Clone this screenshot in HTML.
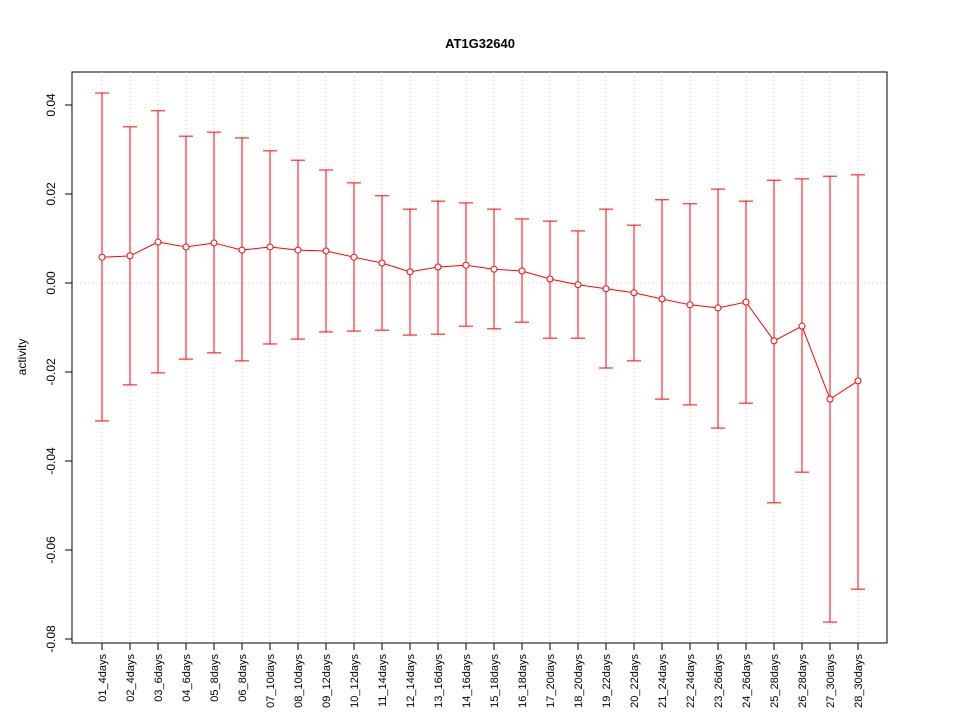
<!DOCTYPE html>
<html><head><meta charset="utf-8"><style>
body{margin:0;background:#fff;}
svg{display:block;font-family:"Liberation Sans",Arial,sans-serif;}
</style></head><body>
<svg id="chart" width="960" height="720">
<text x="480" y="48" text-anchor="middle" font-size="13" font-weight="bold">AT1G32640</text>
<rect x="72" y="72" width="815" height="571" fill="none" stroke="#000"/>
<text transform="translate(26,357) rotate(-90)" text-anchor="middle" font-size="12">activity</text>
<g id="grid"></g><g id="axes"></g><g id="marks"></g>
</svg>
<script>
const categories = ["01_4days","02_4days","03_6days","04_6days","05_8days","06_8days","07_10days","08_10days","09_12days","10_12days","11_14days","12_14days","13_16days","14_16days","15_18days","16_18days","17_20days","18_20days","19_22days","20_22days","21_24days","22_24days","23_26days","24_26days","25_28days","26_28days","27_30days","28_30days"];
const means = [0.0058,0.0061,0.0092,0.0081,0.009,0.0074,0.0081,0.0074,0.0072,0.0058,0.0045,0.0025,0.0036,0.004,0.0031,0.0027,0.0009,-0.0004,-0.0013,-0.0022,-0.0036,-0.0049,-0.0056,-0.0043,-0.013,-0.0097,-0.0261,-0.022];
const upper = [0.0427,0.0351,0.0387,0.033,0.0339,0.0326,0.0297,0.0276,0.0254,0.0225,0.0196,0.0166,0.0184,0.018,0.0166,0.0144,0.0139,0.0117,0.0166,0.013,0.0187,0.0178,0.0211,0.0184,0.0231,0.0234,0.024,0.0243];
const lower = [-0.031,-0.0229,-0.0202,-0.0171,-0.0157,-0.0175,-0.0137,-0.0126,-0.011,-0.0108,-0.0106,-0.0117,-0.0115,-0.0097,-0.0103,-0.0088,-0.0124,-0.0124,-0.0191,-0.0175,-0.0261,-0.0274,-0.0326,-0.027,-0.0494,-0.0425,-0.0762,-0.0688];
const yTicks = [0.04,0.02,0.00,-0.02,-0.04,-0.06,-0.08];
const yTickLabels = ["0.04","0.02","0.00","-0.02","-0.04","-0.06","-0.08"];

const NS="http://www.w3.org/2000/svg";
function yS(v){return 283-v*4450;}
function xS(i){return 102+i*(756/(categories.length-1));}
function mk(parent,tag,attrs){const e=document.createElementNS(NS,tag);for(const k in attrs)e.setAttribute(k,attrs[k]);document.getElementById(parent).appendChild(e);return e;}

// y axis
let e=mk("axes","line",{x1:72,x2:72,y1:yS(yTicks[0]),y2:yS(yTicks[yTicks.length-1]),stroke:"#000"});


yTicks.forEach((t,i)=>{
  let l=mk("axes","line",{x1:65,x2:72,y1:yS(t),y2:yS(t),stroke:"#000"});
  
  
  let tx=mk("axes","text",{transform:`translate(55,${yS(t)}) rotate(-90)`,"text-anchor":"middle","font-size":"12"});
  tx.textContent=yTickLabels[i];
  
  
});
// zero line
let z=mk("grid","line",{x1:72,x2:887,y1:yS(0),y2:yS(0),stroke:"#ccc","stroke-dasharray":"1,3"});


// x
categories.forEach((c,i)=>{
  const x=xS(i);
  let g=mk("grid","line",{x1:x,x2:x,y1:72,y2:643,stroke:"#ccc","stroke-dasharray":"1,3"});
  
  
  let t=mk("axes","line",{x1:x,x2:x,y1:643,y2:650,stroke:"#000"});
  
  
  let tx=mk("axes","text",{transform:`translate(${x+4},654) rotate(-90)`,"text-anchor":"end","font-size":"11"});
  tx.textContent=c;
  
  
});
// error bars
categories.forEach((c,i)=>{
  const x=xS(i);
  let v=mk("marks","line",{x1:x,x2:x,y1:yS(upper[i]),y2:yS(lower[i]),stroke:"#f00"});
  
  
  [upper[i],lower[i]].forEach(val=>{
    let h=mk("marks","line",{x1:x-7,x2:x+7,y1:yS(val),y2:yS(val),stroke:"#f00"});
    
    
  });
});
let pts=means.map((m,i)=>xS(i)+","+yS(m)).join(" ");
let pl=mk("marks","polyline",{points:pts,fill:"none",stroke:"#f00"});


means.forEach((m,i)=>{
  let c=mk("marks","circle",{cx:xS(i),cy:yS(m),r:3,fill:"#fff",stroke:"#f00"});
  
  
});
</script>
</body></html>
